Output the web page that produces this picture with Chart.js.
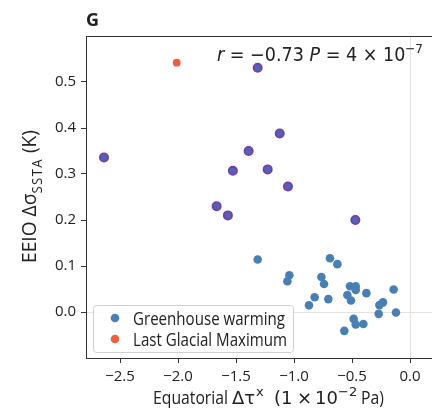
<!DOCTYPE html>
<html>
<head>
<meta charset="utf-8">
<script src="https://cdn.jsdelivr.net/npm/chart.js@4/dist/chart.umd.min.js"></script>
<style>
  html, body { margin: 0; padding: 0; background: #fff; overflow: hidden; }
  #wrap { position: relative; width: 432px; height: 408px; }
</style>
</head>
<body>
<div id="wrap"><canvas id="c" width="432" height="408"></canvas></div>
<script>
// ---- data ----
const ghgX = [-1.313, -0.690, -0.626, -1.040, -1.057, -0.764, -0.741, -0.517, -0.468, -0.468,
              -0.376, -0.141, -0.540, -0.509, -0.822, -0.704, -0.871, -0.233, -0.264, -0.270,
              -0.121, -0.486, -0.468, -0.402, -0.566];
const ghgY = [0.114, 0.117, 0.104, 0.080, 0.067, 0.076, 0.061, 0.056, 0.056, 0.048,
              0.041, 0.049, 0.037, 0.025, 0.032, 0.028, 0.0145, 0.021, 0.015, -0.004,
              -0.001, -0.015, -0.027, -0.026, -0.041];
const ghgHighlightX = [-1.313, -2.638, -1.123, -1.391, -1.527, -1.227, -1.052, -1.667, -1.570, -0.471];
const ghgHighlightY = [0.531, 0.336, 0.388, 0.350, 0.307, 0.310, 0.273, 0.230, 0.210, 0.200];
const lgmX = [-2.011];
const lgmY = [0.542];
const xTicks = [-2.5, -2.0, -1.5, -1.0, -0.5, 0.0];
const yTicks = [0.0, 0.1, 0.2, 0.3, 0.4, 0.5];
const seriesNames = ['Greenhouse warming', 'Last Glacial Maximum'];
const panelLabel = 'G';

const toPts = (xs, ys) => xs.map((x, i) => ({ x: x, y: ys[i] }));

const FONT = '"Open Sans", "DejaVu Sans", sans-serif';
const MATH = '"DejaVu Sans", sans-serif';
const BLUE = '#4a7fb5';
const PURPLE_FILL = '#5560b8';
const PURPLE_EDGE = '#7b3a9c';
const ORANGE = '#f25c3f';
const TXT = '#222';

function fontOf(s) { return (s.style ? s.style + ' ' : '') + s.size + 'px ' + (s.fam || FONT); }
function richWidth(ctx, segs) {
  let w = 0;
  segs.forEach(s => {
    ctx.font = fontOf(s);
    w += ctx.measureText(s.text).width + (s.sp ? s.sp * s.text.length : 0);
  });
  return w;
}
function drawRichFit(ctx, segs, x, y, width, align) {
  const nat = richWidth(ctx, segs);
  const sx = width / nat;
  ctx.save();
  ctx.translate(align === 'center' ? x - width / 2 : x, y);
  ctx.scale(sx, 1);
  ctx.textBaseline = 'alphabetic';
  ctx.textAlign = 'left';
  let cx = 0;
  segs.forEach(s => {
    ctx.font = fontOf(s);
    const yy = s.dy || 0;
    if (s.sp) {
      for (const ch of s.text) {
        ctx.fillText(ch, cx, yy);
        cx += ctx.measureText(ch).width + s.sp;
      }
    } else {
      ctx.fillText(s.text, cx, yy);
      cx += ctx.measureText(s.text).width;
    }
  });
  ctx.restore();
}
function drawPlaced(ctx, pieces, y) {
  ctx.textBaseline = 'alphabetic';
  ctx.textAlign = 'left';
  pieces.forEach(p => {
    ctx.save();
    ctx.translate(p.x, y + (p.dy || 0));
    ctx.scale(p.sx || 1, 1);
    ctx.font = fontOf(p);
    ctx.fillText(p.text, 0, 0);
    ctx.restore();
  });
}

const decor = {
  id: 'decor',
  beforeDatasetsDraw(chart) {
    const { ctx, chartArea: a } = chart;
    ctx.save();
    ctx.strokeStyle = '#333';
    ctx.lineWidth = 1;
    ctx.beginPath();
    ctx.moveTo(a.left + 0.5, a.top + 0.5);
    ctx.lineTo(a.right + 5, a.top + 0.5);
    ctx.stroke();
    ctx.restore();
  },
  afterDraw(chart) {
    const { ctx } = chart;
    ctx.save();
    ctx.fillStyle = TXT;
    // panel label
    ctx.font = 'bold 18px ' + FONT;
    ctx.textAlign = 'left';
    ctx.textBaseline = 'alphabetic';
    ctx.fillText(panelLabel, 86, 26);
    // statistics annotation
    drawRichFit(ctx, [
      { text: 'r', size: 19, style: 'oblique', fam: MATH },
      { text: ' = \u22120.73 ', size: 19, fam: MATH },
      { text: 'P', size: 19, style: 'oblique', fam: MATH },
      { text: ' = 4 \u00d7 10', size: 19, fam: MATH },
      { text: '\u22127', size: 13, fam: MATH, dy: -8 }
    ], 217, 61, 206, 'left');
    // x-axis title
    ctx.font = '19px ' + FONT;
    const xsx = 75 / ctx.measureText('Equatorial').width;
    drawPlaced(ctx, [
      { text: 'Equatorial', size: 19, x: 153, sx: xsx },
      { text: '\u0394\u03c4', size: 18, fam: MATH, x: 232 },
      { text: 'x', size: 13, fam: MATH, x: 256, dy: -8 },
      { text: '(1', size: 18, fam: MATH, x: 274 },
      { text: '\u00d7', size: 18, fam: MATH, x: 297 },
      { text: '10', size: 18, fam: MATH, x: 315 },
      { text: '\u22122', size: 13, fam: MATH, x: 338, dy: -8 },
      { text: 'Pa)', size: 19, x: 361, sx: xsx }
    ], 404);
    // y-axis title (rotated)
    ctx.save();
    ctx.translate(36, 196.5);
    ctx.rotate(-Math.PI / 2);
    drawRichFit(ctx, [
      { text: 'EEIO \u0394\u03c3', size: 20.5 },
      { text: 'SSTA', size: 14, dy: 6, sp: 1.5 },
      { text: ' (K)', size: 20.5 }
    ], 0, 0, 133, 'center');
    ctx.restore();

    // legend
    const bx = 93, by = 305, bw = 200, bh = 47, r = 3;
    ctx.beginPath();
    ctx.roundRect(bx + 0.5, by + 0.5, bw, bh, r);
    ctx.fillStyle = 'rgba(255,255,255,0.85)';
    ctx.fill();
    ctx.strokeStyle = '#d0d0d0';
    ctx.lineWidth = 1;
    ctx.stroke();
    const items = [[seriesNames[0], BLUE], [seriesNames[1], ORANGE]];
    ctx.font = '18px ' + FONT;
    const lsx = 152 / ctx.measureText(seriesNames[0]).width;
    items.forEach((it, i) => {
      const yy = by + 13 + i * 21;
      ctx.beginPath();
      ctx.arc(115, yy, 4.3, 0, Math.PI * 2);
      ctx.fillStyle = it[1];
      ctx.fill();
      ctx.fillStyle = TXT;
      ctx.save();
      ctx.translate(133, yy + 6.5);
      ctx.scale(lsx, 1);
      ctx.font = '18px ' + FONT;
      ctx.textBaseline = 'alphabetic';
      ctx.textAlign = 'left';
      ctx.fillText(it[0], 0, 0);
      ctx.restore();
    });
    ctx.restore();
  }
};

const zeroGrid = (c) => (c.tick && Math.abs(c.tick.value) < 1e-9) ? '#e3e3e3' : 'rgba(0,0,0,0)';

new Chart(document.getElementById('c'), {
  type: 'scatter',
  data: {
    datasets: [
      { label: seriesNames[0], data: toPts(ghgX, ghgY), backgroundColor: BLUE, borderColor: BLUE,
        pointRadius: 4.3, borderWidth: 0, pointHoverRadius: 4.3 },
      { label: seriesNames[0] + ' (highlighted)', data: toPts(ghgHighlightX, ghgHighlightY),
        backgroundColor: PURPLE_FILL, borderColor: PURPLE_EDGE, pointRadius: 4.2, borderWidth: 1.6 },
      { label: seriesNames[1], data: toPts(lgmX, lgmY), backgroundColor: ORANGE, borderColor: ORANGE,
        pointRadius: 3.9, borderWidth: 0 }
    ]
  },
  options: {
    responsive: false,
    animation: false,
    devicePixelRatio: 1,
    layout: { autoPadding: false, padding: { top: 36, left: 0, right: 0, bottom: 0 } },
    plugins: { legend: { display: false }, tooltip: { enabled: false } },
    scales: {
      x: {
        type: 'linear',
        min: -2.5 - 34 / 116,
        max: 22 / 116,
        afterBuildTicks: (s) => { s.ticks = xTicks.map(v => ({ value: v })); },
        afterFit: (s) => { s.height = 50; s.paddingLeft = 0; s.paddingRight = 0; },
        ticks: { color: TXT, font: { family: FONT, size: 15 }, padding: 5,
                 callback: (v) => (v < 0 ? '\u2212' : '') + Math.abs(v).toFixed(1), maxRotation: 0 },
        grid: { color: zeroGrid, tickColor: '#333', tickLength: 5, lineWidth: 1 },
        border: { display: true, color: '#333', width: 1 }
      },
      y: {
        type: 'linear',
        min: -0.1,
        max: 0.6,
        afterBuildTicks: (s) => { s.ticks = yTicks.map(v => ({ value: v })); },
        afterFit: (s) => { s.width = 86; s.paddingTop = 0; s.paddingBottom = 0; },
        ticks: { color: TXT, font: { family: FONT, size: 15 }, padding: 5,
                 callback: (v) => (v < 0 ? '\u2212' : '') + Math.abs(v).toFixed(1) },
        grid: { color: zeroGrid, tickColor: '#333', tickLength: 5, lineWidth: 1 },
        border: { display: true, color: '#333', width: 1 }
      }
    }
  },
  plugins: [decor]
});
</script>
</body>
</html>
